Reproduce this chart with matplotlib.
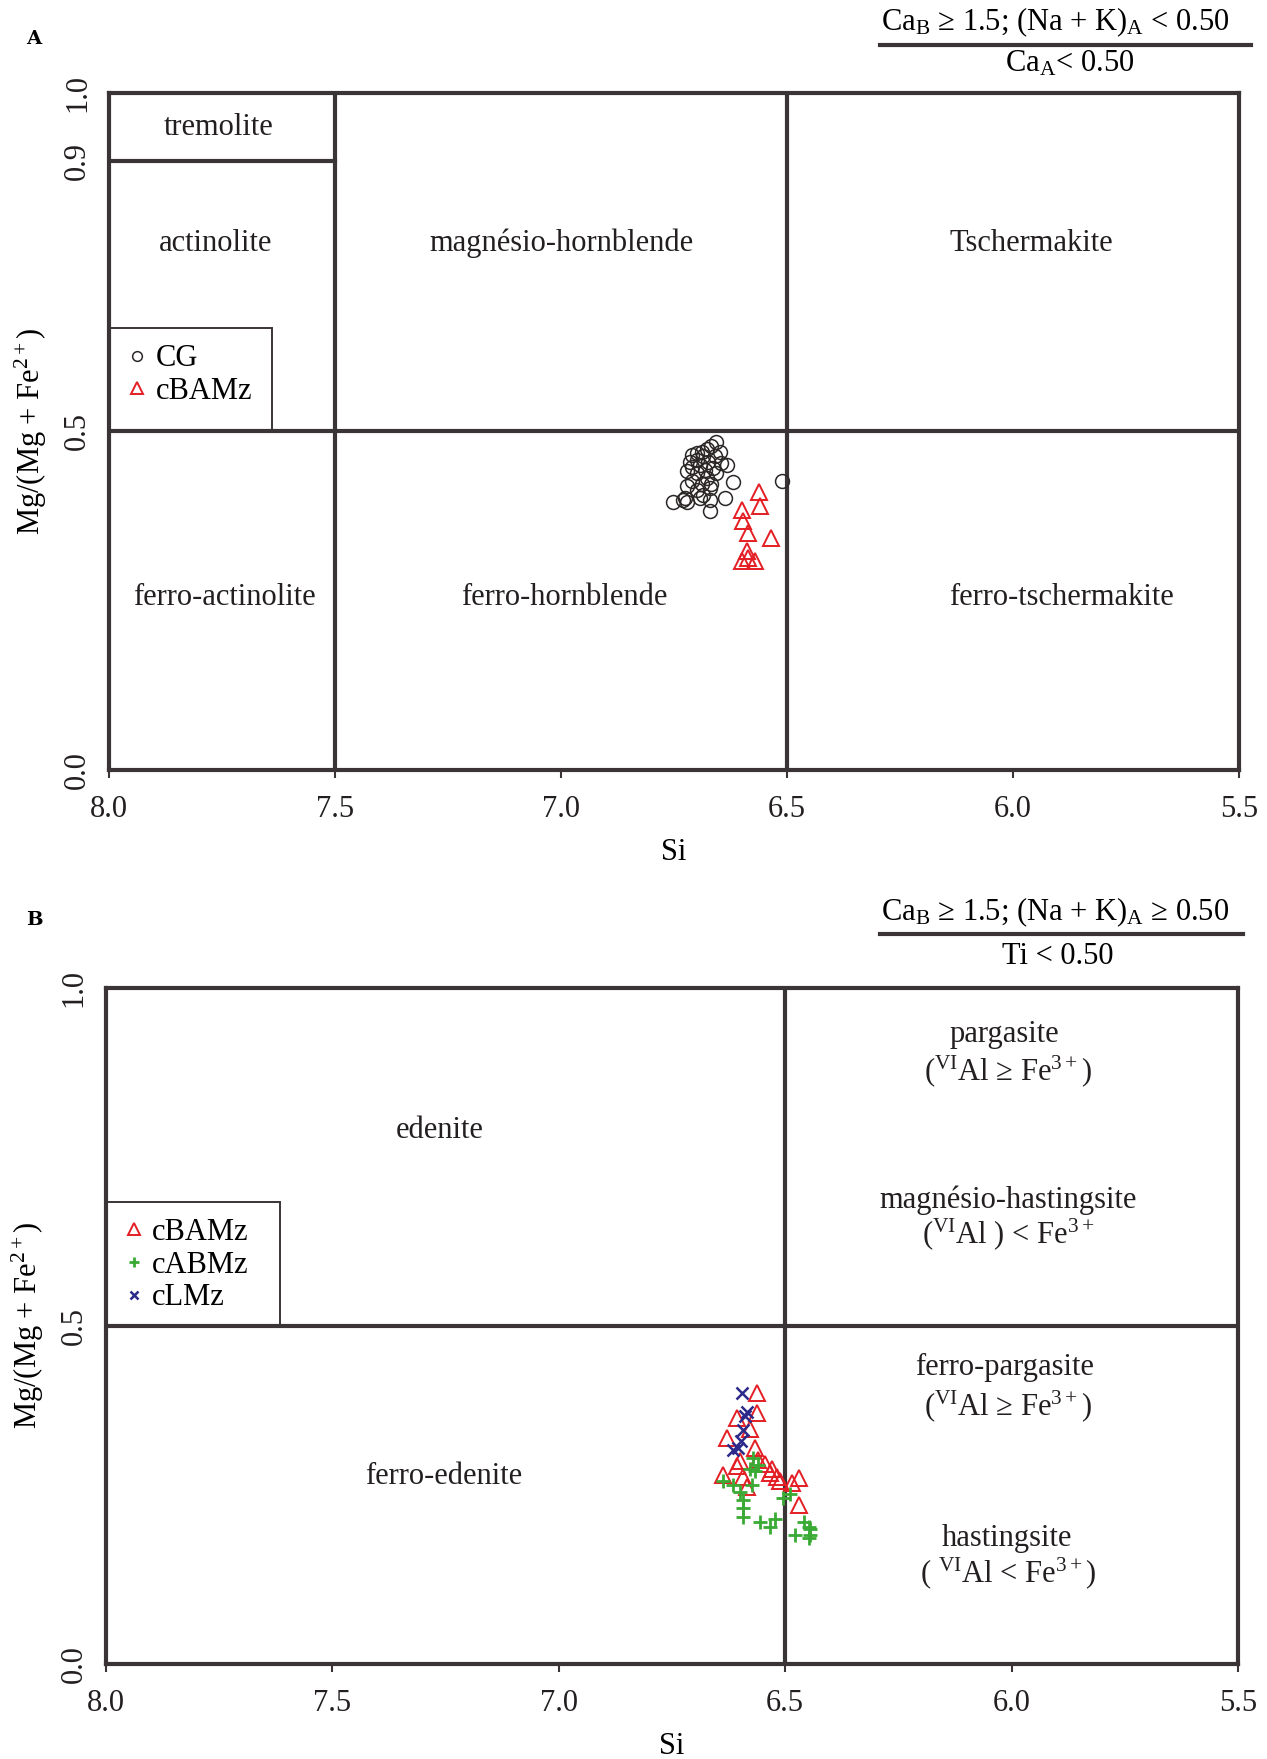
import numpy as np
import matplotlib
matplotlib.use("Agg")
import matplotlib.pyplot as plt
from matplotlib.patches import Rectangle

plt.rcParams['font.family'] = ['Liberation Serif', 'DejaVu Serif']
plt.rcParams['mathtext.fontset'] = 'custom'
plt.rcParams['mathtext.rm'] = 'Liberation Serif'
plt.rcParams['mathtext.it'] = 'Liberation Serif'

# --- data: panel A (Si, Mg/(Mg+Fe2+)) ---
cg_si = [6.656, 6.667, 6.678, 6.689, 6.700, 6.711, 6.648, 6.659, 6.685, 6.700,
         6.715, 6.674, 6.645, 6.633, 6.693, 6.711, 6.663, 6.681, 6.722, 6.656,
         6.700, 6.678, 6.711, 6.689, 6.667, 6.619, 6.722, 6.670, 6.700, 6.685,
         6.637, 6.726, 6.752, 6.729, 6.722, 6.693, 6.670, 6.670, 6.512]
cg_mg = [0.484, 0.479, 0.474, 0.470, 0.468, 0.465, 0.469, 0.463, 0.463, 0.458,
         0.455, 0.455, 0.453, 0.451, 0.451, 0.448, 0.446, 0.443, 0.441, 0.438,
         0.438, 0.431, 0.426, 0.423, 0.423, 0.425, 0.419, 0.416, 0.414, 0.406,
         0.401, 0.401, 0.396, 0.399, 0.396, 0.401, 0.399, 0.382, 0.426]
cbamz_a_si = [6.563, 6.560, 6.600, 6.597, 6.586, 6.536, 6.588, 6.586, 6.600, 6.571]
cbamz_a_mg = [0.410, 0.390, 0.384, 0.367, 0.350, 0.342, 0.324, 0.313, 0.308, 0.308]

# --- data: panel B ---
cbamz_b_si = [6.562, 6.562, 6.607, 6.577, 6.629, 6.566, 6.607, 6.636, 6.592, 6.559,
              6.529, 6.533, 6.518, 6.511, 6.485, 6.470, 6.585, 6.470, 6.600, 6.545]
cbamz_b_mg = [0.401, 0.371, 0.363, 0.348, 0.334, 0.319, 0.292, 0.279, 0.277, 0.302,
              0.289, 0.282, 0.277, 0.270, 0.267, 0.275, 0.262, 0.235, 0.300, 0.295]
cabmz_si = [6.570, 6.559, 6.577, 6.566, 6.636, 6.614, 6.573, 6.592, 6.592, 6.592,
            6.555, 6.533, 6.522, 6.504, 6.489, 6.459, 6.448, 6.478, 6.445, 6.448,
            6.445, 6.600]
cabmz_mg = [0.304, 0.294, 0.289, 0.285, 0.270, 0.265, 0.265, 0.242, 0.230, 0.218,
            0.210, 0.203, 0.215, 0.245, 0.252, 0.210, 0.203, 0.191, 0.191, 0.186,
            0.199, 0.255]
clmz_si = [6.596, 6.585, 6.588, 6.592, 6.603, 6.614, 6.598]
clmz_mg = [0.401, 0.372, 0.366, 0.346, 0.319, 0.316, 0.330]

DARK = '#3b3436'
RED = '#e31e24'
GREEN = '#3aaa35'
BLUE = '#2b2a8a'
LW = 3.0
FS = 22

fig = plt.figure(figsize=(12.67, 17.59), dpi=100)
axA = fig.add_axes([0.0860, 0.5623, 0.8919, 0.3849])
axB = fig.add_axes([0.0833, 0.0540, 0.8939, 0.3846])


def style(ax, yticks):
    ax.set_xlim(8.0, 5.5)
    ax.set_ylim(0, 1)
    ax.set_xticks([8.0, 7.5, 7.0, 6.5, 6.0, 5.5])
    ax.set_xticklabels(['8.0', '7.5', '7.0', '6.5', '6.0', '5.5'], fontsize=FS)
    ax.set_yticks(yticks)
    ax.set_yticklabels(['%.1f' % v for v in yticks], fontsize=FS, rotation=90, va='center')
    ax.tick_params(axis='x', length=6, width=1.5, color=DARK, pad=12, labelcolor='#231f20')
    ax.tick_params(axis='y', length=0, pad=12, labelcolor='#231f20')
    for s in ax.spines.values():
        s.set_linewidth(LW)
        s.set_color(DARK)
    ax.set_xlabel('Si', fontsize=FS, labelpad=10)
    ax.set_ylabel('Mg/(Mg + Fe$^{2+}$)', fontsize=FS, labelpad=10)


def add_legend(ax, top):
    ax.legend(loc='upper left', bbox_to_anchor=(0.006, top - 0.01), frameon=False, fontsize=FS,
              markerscale=0.7, handlelength=0.8, handletextpad=0.2, borderaxespad=0.0,
              labelspacing=0.12, borderpad=0.3)


# ---------- Panel A ----------
style(axA, [0.0, 0.5, 0.9, 1.0])
axA.axvline(7.5, color=DARK, lw=LW)
axA.axvline(6.5, color=DARK, lw=LW)
axA.axhline(0.5, color=DARK, lw=LW)
axA.plot([8.0, 7.5], [0.9, 0.9], color=DARK, lw=LW)

labelsA = [('tremolite', 7.757, 0.949), ('actinolite', 7.764, 0.778),
           ('magnésio-hornblende', 7.0, 0.778), ('Tschermakite', 5.959, 0.778),
           ('ferro-actinolite', 7.744, 0.255), ('ferro-hornblende', 6.992, 0.255),
           ('ferro-tschermakite', 5.892, 0.255)]
for t, x, y in labelsA:
    axA.text(x, y, t, fontsize=FS, ha='center', va='center', color='#231f20')

axA.add_patch(Rectangle((7.64, 0.5), 0.36, 0.152, fill=False, ec=DARK, lw=1.4, zorder=2))
axA.plot(cg_si, cg_mg, 'o', ms=10, mfc='none', mec='#2b2727', mew=1.1, label='CG')
axA.plot(cbamz_a_si, cbamz_a_mg, '^', ms=12, mfc='none', mec=RED, mew=1.4, label='cBAMz')
add_legend(axA, 0.652)

fig.text(0.0268, 0.978, 'A', fontsize=14, fontweight='bold', family='DejaVu Serif',
         ha='center', va='center')
fig.text(0.833, 0.9875, 'Ca$_\\mathrm{B}$ ≥ 1.5; (Na + K)$_\\mathrm{A}$ < 0.50',
         fontsize=FS, ha='center', va='center')
fig.add_artist(plt.Line2D([880 / 1267, 1251 / 1267], [1 - 45 / 1759, 1 - 45 / 1759],
                          color=DARK, lw=LW))
fig.text(0.844, 0.9635, 'Ca$_\\mathrm{A}$< 0.50', fontsize=FS, ha='center', va='center')

# ---------- Panel B ----------
style(axB, [0.0, 0.5, 1.0])
axB.axvline(6.5, color=DARK, lw=LW)
axB.axhline(0.5, color=DARK, lw=LW)

labelsB = [('pargasite', 6.015, 0.930), ('($^{\\mathrm{VI}}$Al ≥ Fe$^{3+}$)', 6.008, 0.876),
           ('edenite', 7.262, 0.789),
           ('magnésio-hastingsite', 6.008, 0.685), ('($^{\\mathrm{VI}}$Al ) < Fe$^{3+}$', 6.008, 0.635),
           ('ferro-pargasite', 6.015, 0.438), ('($^{\\mathrm{VI}}$Al ≥ Fe$^{3+}$)', 6.008, 0.381),
           ('ferro-edenite', 7.254, 0.277),
           ('hastingsite', 6.010, 0.186), ('( $^{\\mathrm{VI}}$Al < Fe$^{3+}$)', 6.008, 0.134)]
for t, x, y in labelsB:
    axB.text(x, y, t, fontsize=FS, ha='center', va='center', color='#231f20')

axB.add_patch(Rectangle((7.616, 0.5), 0.384, 0.183, fill=False, ec=DARK, lw=1.4, zorder=2))
axB.plot(cbamz_b_si, cbamz_b_mg, '^', ms=12, mfc='none', mec=RED, mew=1.4, label='cBAMz', zorder=3)
axB.plot(cabmz_si, cabmz_mg, '+', ms=10, mec=GREEN, mew=2.0, label='cABMz', zorder=4)
axB.plot(clmz_si, clmz_mg, 'x', ms=8, mec=BLUE, mew=1.8, label='cLMz', zorder=5)
add_legend(axB, 0.683)

fig.text(0.0268, 0.477, 'B', fontsize=14, fontweight='bold', family='DejaVu Serif',
         ha='center', va='center')
fig.text(0.833, 0.4815, 'Ca$_\\mathrm{B}$ ≥ 1.5; (Na + K)$_\\mathrm{A}$ ≥ 0.50',
         fontsize=FS, ha='center', va='center')
fig.add_artist(plt.Line2D([880 / 1267, 1243 / 1267], [1 - 934 / 1759, 1 - 934 / 1759],
                          color=DARK, lw=LW))
fig.text(0.835, 0.4562, 'Ti < 0.50', fontsize=FS, ha='center', va='center')

fig.savefig('out.png', dpi=100)
